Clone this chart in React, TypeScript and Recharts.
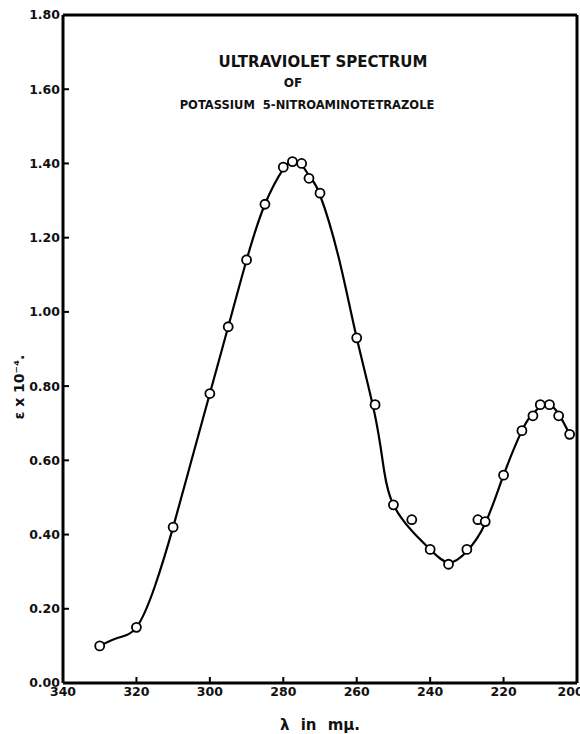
import { ComposedChart, Line, XAxis, YAxis, ReferenceLine } from "recharts";

// measured points (circles)
const wavelengths = [330, 320, 310, 300, 295, 290, 285, 280, 277.5, 275, 273, 270, 260, 255, 250, 245, 240, 235, 230, 227, 225, 220, 215, 212, 210, 207.5, 205, 202];
const epsilon = [0.10, 0.15, 0.42, 0.78, 0.96, 1.14, 1.29, 1.39, 1.405, 1.40, 1.36, 1.32, 0.93, 0.75, 0.48, 0.44, 0.36, 0.32, 0.36, 0.44, 0.435, 0.56, 0.68, 0.72, 0.75, 0.75, 0.72, 0.67];

// smooth hand-drawn curve
const curveWl = [330, 325, 320, 315, 310, 305, 300, 295, 290, 285, 280, 277.5, 275, 272.5, 270, 265, 260, 255, 252.5, 250, 245, 240, 235, 230, 225, 220, 215, 212.5, 210, 207.5, 205, 202];
const curveEps = [0.10, 0.122, 0.15, 0.26, 0.42, 0.60, 0.78, 0.96, 1.14, 1.29, 1.385, 1.405, 1.395, 1.36, 1.315, 1.15, 0.93, 0.72, 0.57, 0.48, 0.41, 0.36, 0.325, 0.355, 0.43, 0.56, 0.68, 0.72, 0.745, 0.75, 0.725, 0.67];

const xTicks = [340, 320, 300, 280, 260, 240, 220, 200];
const yTicks = [0, 0.2, 0.4, 0.6, 0.8, 1.0, 1.2, 1.4, 1.6, 1.8];

const points = wavelengths.map((wl, i) => ({ wl, eps: epsilon[i] }));
const curve = curveWl.map((wl, i) => ({ wl, fit: curveEps[i] }));

const font = "'DejaVu Sans', sans-serif";
const tickStyle = { fill: "#111", fontSize: 12.5, fontFamily: font, fontWeight: 700 };

export default function App() {
  return (
    <div style={{ position: "absolute", left: 0, top: 0, width: 580, height: 734, background: "#fff" }}>
      <ComposedChart width={580} height={734} margin={{ top: 15, right: 3, bottom: 0, left: 0 }}>
        <XAxis
          type="number"
          dataKey="wl"
          domain={[200, 340]}
          reversed
          ticks={xTicks}
          allowDataOverflow
          height={51}
          tick={tickStyle}
          tickSize={-6}
          tickMargin={10}
          tickLine={{ stroke: "#000", strokeWidth: 2 }}
          axisLine={{ stroke: "#000", strokeWidth: 3 }}
          label={{
            value: "λ in mμ.",
            position: "insideBottom",
            offset: 4,
            style: { fill: "#111", fontSize: 15, fontFamily: font, fontWeight: 700, wordSpacing: 6 },
          }}
        />
        <YAxis
          type="number"
          domain={[0, 1.8]}
          ticks={yTicks}
          width={63}
          tick={tickStyle}
          tickFormatter={(v: number) => v.toFixed(2)}
          tickSize={-6}
          tickMargin={9}
          tickLine={{ stroke: "#000", strokeWidth: 2 }}
          axisLine={{ stroke: "#000", strokeWidth: 3 }}
          label={{
            content: () => (
              <text
                x={24}
                y={387}
                transform="rotate(-90 24 387)"
                textAnchor="middle"
                fill="#111"
                fontSize={14}
                fontFamily={font}
                fontWeight={700}
              >
                ε x 10⁻⁴.
              </text>
            ),
          }}
        />
        <ReferenceLine y={1.8} stroke="#000" strokeWidth={3} />
        <ReferenceLine x={200} stroke="#000" strokeWidth={3} />
        <Line
          data={curve}
          dataKey="fit"
          type="natural"
          stroke="#000"
          strokeWidth={2.2}
          dot={false}
          activeDot={false}
          isAnimationActive={false}
        />
        <Line
          data={points}
          dataKey="eps"
          stroke="none"
          dot={{ r: 4.5, fill: "#fff", stroke: "#000", strokeWidth: 1.8 }}
          activeDot={false}
          isAnimationActive={false}
        />
      </ComposedChart>
      <div style={{ position: "absolute", left: 0, width: 580, top: 53, fontFamily: font, fontWeight: 700, color: "#111" }}>
        <div style={{ position: "absolute", left: 323, transform: "translateX(-50%)", whiteSpace: "nowrap", fontSize: 15 }}>
          ULTRAVIOLET SPECTRUM
        </div>
        <div style={{ position: "absolute", left: 293, top: 23, transform: "translateX(-50%)", whiteSpace: "nowrap", fontSize: 12 }}>
          OF
        </div>
        <div style={{ position: "absolute", left: 307, top: 45, transform: "translateX(-50%)", whiteSpace: "pre", fontSize: 11.5 }}>
          {"POTASSIUM  5-NITROAMINOTETRAZOLE"}
        </div>
      </div>
    </div>
  );
}
